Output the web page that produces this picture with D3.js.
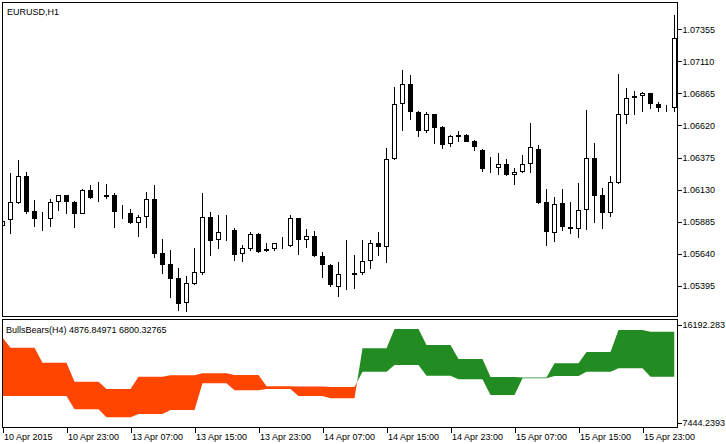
<!DOCTYPE html>
<html><head><meta charset="utf-8">
<script src="https://cdn.jsdelivr.net/npm/d3@7"></script>
<style>
html,body{margin:0;padding:0;background:#fff;}
svg{display:block;}
text{font-family:"Liberation Sans",Arial,sans-serif;font-size:9px;fill:#000;}
</style></head><body>
<svg id="c" width="726" height="444"></svg>
<script>
// ---------------- DATA ----------------
const symbolLabel = "EURUSD,H1";
const indicatorLabel = "BullsBears(H4) 4876.84971 6800.32765";

const open = [1.05848,1.05895,1.06025,1.06234,1.05966,1.05913,1.05903,1.06033,1.06088,1.06035,
1.05946,1.06124,1.06081,1.06088,1.06088,1.05958,1.05948,1.05869,1.05915,1.06058,
1.05645,1.05561,1.05454,1.05261,1.05410,1.05492,1.05920,1.05739,1.05809,1.05821,
1.05632,1.05678,1.05790,1.05655,1.05670,1.05719,1.05693,1.05910,1.05739,1.05773,
1.05620,1.05551,1.05388,1.05481,1.05471,1.05487,1.05579,1.05719,1.05689,1.06361,
1.06782,1.06935,1.06723,1.06580,1.06708,1.06608,1.06476,1.06526,1.06547,1.06501,
1.06432,1.06295,1.06289,1.06323,1.06241,1.06259,1.06320,1.06443,1.06033,1.05800,
1.06025,1.05844,1.05826,1.05968,1.06369,1.06086,1.05946,1.06178,1.06698,1.06828,
1.06843,1.06866,1.06782,1.06757,1.06751];
const high = [1.05905,1.06259,1.06356,1.06264,1.06050,1.05961,1.06058,1.06092,1.06092,1.06043,
1.06132,1.06165,1.06188,1.06175,1.06101,1.06010,1.05981,1.05936,1.06111,1.06165,
1.05752,1.05668,1.05530,1.05469,1.05683,1.06104,1.05958,1.05936,1.05936,1.05834,
1.05706,1.05806,1.05800,1.05722,1.05720,1.05767,1.05936,1.05916,1.05829,1.05813,
1.05653,1.05561,1.05576,1.05744,1.05628,1.05744,1.05744,1.05806,1.06448,1.06914,
1.07044,1.07006,1.06731,1.06725,1.06711,1.06616,1.06547,1.06578,1.06555,1.06509,
1.06440,1.06379,1.06409,1.06364,1.06292,1.06392,1.06639,1.06471,1.06134,1.06073,
1.06134,1.06035,1.06180,1.06738,1.06488,1.06140,1.06231,1.07013,1.06906,1.06883,
1.06876,1.06868,1.06802,1.06776,1.07464];
const low = [1.05836,1.05793,1.06020,1.05946,1.05846,1.05816,1.05846,1.05968,1.05946,1.05836,
1.05941,1.06056,1.06035,1.06060,1.05836,1.05905,1.05866,1.05770,1.05836,1.05609,
1.05485,1.05303,1.05204,1.05196,1.05401,1.05479,1.05624,1.05678,1.05739,1.05582,
1.05579,1.05663,1.05643,1.05653,1.05663,1.05673,1.05690,1.05632,1.05683,1.05615,
1.05456,1.05383,1.05311,1.05362,1.05372,1.05479,1.05525,1.05622,1.05571,1.06355,
1.06580,1.06664,1.06534,1.06565,1.06481,1.06442,1.06458,1.06496,1.06490,1.06427,
1.06264,1.06259,1.06244,1.06234,1.06167,1.06255,1.06259,1.06017,1.05701,1.05731,
1.05816,1.05793,1.05762,1.05819,1.05877,1.05831,1.05918,1.06175,1.06633,1.06698,
1.06725,1.06744,1.06725,1.06725,1.06725];
const close = [1.05890,1.06035,1.06234,1.05961,1.05907,1.05905,1.06035,1.06088,1.06033,1.05946,
1.06127,1.06060,1.06073,1.06071,1.05956,1.05951,1.05869,1.05918,1.06056,1.05640,
1.05556,1.05449,1.05258,1.05413,1.05498,1.05918,1.05739,1.05803,1.05802,1.05632,
1.05681,1.05790,1.05655,1.05673,1.05719,1.05714,1.05910,1.05739,1.05773,1.05617,
1.05548,1.05395,1.05485,1.05475,1.05489,1.05582,1.05719,1.05686,1.06361,1.06782,
1.06935,1.06721,1.06580,1.06708,1.06603,1.06473,1.06537,1.06545,1.06496,1.06458,
1.06289,1.06291,1.06323,1.06236,1.06264,1.06323,1.06453,1.06027,1.05800,1.06022,
1.05838,1.05826,1.05971,1.06369,1.06075,1.05946,1.06186,1.06705,1.06828,1.06843,
1.06866,1.06782,1.06751,1.06753,1.07286];

// BullsBears(H4) indicator values on each H1 bar
const bulls = [9854.4,
9854.4,9854.4,9854.4,9854.4, 9854.4,9854.4,9854.4,9854.4,
8667.1,8667.1,8667.1,8667.1, 7953.0,7953.0,7953.0,7953.0,
8247.6,8247.6,8247.6,8247.6, 8604.6,8604.6,8604.6,8604.6,
10988.0,10988.0,10988.0,10988.0, 10363.2,10363.2,10363.2,10363.2,
10479.2,10479.2,10479.2,10479.2, 9854.4,9854.4,9854.4,9854.4,
9649.0,9649.0,9649.0,9649.0, 14112.3,14112.3,14112.3,14112.3,
15835.1,15835.1,15835.1,15835.1, 14406.9,14406.9,14406.9,14406.9,
13157.2,13157.2,13157.2,13157.2, 11550.4,11550.4,11550.4,11550.4,
11505.8,11505.8,11505.8,11505.8, 12773.3,12773.3,12773.3,12773.3,
13782.0,13782.0,13782.0,13782.0, 15745.8,15745.8,15745.8,15745.8,
15594.1,15594.1,15594.1,15594.1];
const bears = [15058.5,
14165.9,14165.9,14165.9,14165.9, 12826.9,12826.9,12826.9,12826.9,
11130.8,11130.8,11130.8,11130.8, 10479.2,10479.2,10479.2,10479.2,
11577.1,11577.1,11577.1,11577.1, 11702.1,11702.1,11702.1,11702.1,
11880.7,11880.7,11880.7,11880.7, 11728.9,11728.9,11728.9,11728.9,
10720.2,10720.2,10720.2,10720.2, 10702.4,10702.4,10702.4,10702.4,
10657.7,10657.7,10657.7,10657.7, 12023.5,12023.5,12023.5,12023.5,
12621.6,12621.6,12621.6,12621.6, 11666.4,11666.4,11666.4,11666.4,
11345.1,11345.1,11345.1,11345.1, 9943.6,9943.6,9943.6,9943.6,
11434.3,11434.3,11434.3,11434.3, 11639.7,11639.7,11639.7,11639.7,
12023.5,12023.5,12023.5,12023.5, 12327.0,12327.0,12327.0,12327.0,
11577.1,11577.1,11577.1,11577.1];

const priceTicks = [1.07355,1.07110,1.06865,1.06620,1.06375,1.06130,1.05885,1.05640,1.05395];
const timeTickIndex = [0,8,16,24,32,40,48,56,64,72,80];
const timeTickLabels = ["10 Apr 2015","10 Apr 23:00","13 Apr 07:00","13 Apr 15:00","13 Apr 23:00",
  "14 Apr 07:00","14 Apr 15:00","14 Apr 23:00","15 Apr 07:00","15 Apr 15:00","15 Apr 23:00"];
const subTicks = [16192.283, 7444.2393];
const subTickLabels = ["16192.283","7444.2393"];

// ---------------- LAYOUT ----------------
const L = 2.5, R = 677.5;
const mainTop = 2.5, mainBot = 316.5;
const subTop = 319.5, subBot = 427.5;
const bullColor = "#228B22", bearColor = "#FF4500";

const svg = d3.select("#c");
const n = open.length;
const x = d3.scaleLinear().domain([0, n - 1]).range([2.5, 674.5]);
const y = d3.scaleLinear().domain([1.05395, 1.07355]).range([285.7, 29.3]);
const ys = d3.scaleLinear().domain([7444.2393, 16192.283]).range([423, 325]);

const defs = svg.append("defs");
defs.append("clipPath").attr("id","mainClip").append("rect")
  .attr("x", L+0.5).attr("y", mainTop+0.5).attr("width", R-L-1).attr("height", mainBot-mainTop-1);
defs.append("clipPath").attr("id","subClip").append("rect")
  .attr("x", L+0.5).attr("y", subTop+0.5).attr("width", R-L-1).attr("height", subBot-subTop-1);

// ---------------- CANDLES ----------------
const idx = d3.range(n);
const cg = svg.append("g").attr("clip-path","url(#mainClip)");
cg.selectAll("line.wick").data(idx).join("line").attr("class","wick")
  .attr("x1", i => x(i)).attr("x2", i => x(i))
  .attr("y1", i => Math.round(y(high[i]))).attr("y2", i => Math.round(y(low[i])))
  .attr("stroke","#000").attr("stroke-width",1).attr("shape-rendering","crispEdges");
cg.selectAll("rect.body").data(idx).join("rect").attr("class","body")
  .attr("x", i => x(i) - 2)
  .attr("y", i => Math.round(Math.min(y(open[i]), y(close[i]))) + 0.5)
  .attr("width", 4)
  .attr("height", i => Math.max(0, Math.round(Math.abs(y(open[i]) - y(close[i]))) - 1))
  .attr("fill", i => close[i] >= open[i] ? "#fff" : "#000")
  .attr("stroke","#000").attr("stroke-width",1).attr("shape-rendering","crispEdges");

// ---------------- INDICATOR BAND ----------------
const areaBelow = (arr) => d3.area().x((d,i) => x(i)).y0(d => ys(d)).y1(440)(arr);
const areaAbove = (arr) => d3.area().x((d,i) => x(i)).y0(d => ys(d)).y1(300)(arr);
defs.append("clipPath").attr("id","belowBulls").append("path").attr("d", areaBelow(bulls));
defs.append("clipPath").attr("id","belowBears").append("path").attr("d", areaBelow(bears));
const sg = svg.append("g").attr("clip-path","url(#subClip)");
sg.append("path").attr("d", areaAbove(bears)).attr("fill", bullColor)
  .attr("clip-path","url(#belowBulls)");
sg.append("path").attr("d", areaAbove(bulls)).attr("fill", bearColor)
  .attr("clip-path","url(#belowBears)");

// ---------------- FRAMES ----------------
svg.append("rect").attr("x",L).attr("y",mainTop).attr("width",R-L).attr("height",mainBot-mainTop)
  .attr("fill","none").attr("stroke","#000").attr("shape-rendering","crispEdges");
svg.append("rect").attr("x",L).attr("y",subTop).attr("width",R-L).attr("height",subBot-subTop)
  .attr("fill","none").attr("stroke","#000").attr("shape-rendering","crispEdges");

// ---------------- AXES ----------------
function styleAxis(g){
  g.select(".domain").remove();
  g.attr("font-family", null).attr("font-size", null);
  g.selectAll("line").attr("stroke","#000").attr("shape-rendering","crispEdges");
  g.selectAll("text").attr("fill","#000");
}
svg.append("g").attr("transform",`translate(${R},0)`)
  .call(d3.axisRight(y).tickValues(priceTicks).tickSize(4).tickPadding(1).tickFormat(d3.format(".5f")))
  .call(styleAxis);
svg.append("g").attr("transform",`translate(${R},0)`)
  .call(d3.axisRight(ys).tickValues(subTicks).tickSize(4).tickPadding(1).tickFormat((d,i) => subTickLabels[i]))
  .call(styleAxis);
svg.append("g").attr("transform",`translate(0,${subBot})`)
  .call(d3.axisBottom(x).tickValues(timeTickIndex).tickSize(5).tickFormat((d,i) => timeTickLabels[i]))
  .call(styleAxis)
  .call(g => g.selectAll("text").attr("text-anchor","start").attr("x",1).attr("y",12.5).attr("dy",null));

// ---------------- LABELS ----------------
svg.append("text").attr("x",7).attr("y",15).text(symbolLabel);
svg.append("text").attr("x",6).attr("y",333.3).text(indicatorLabel);
</script>
</body></html>
